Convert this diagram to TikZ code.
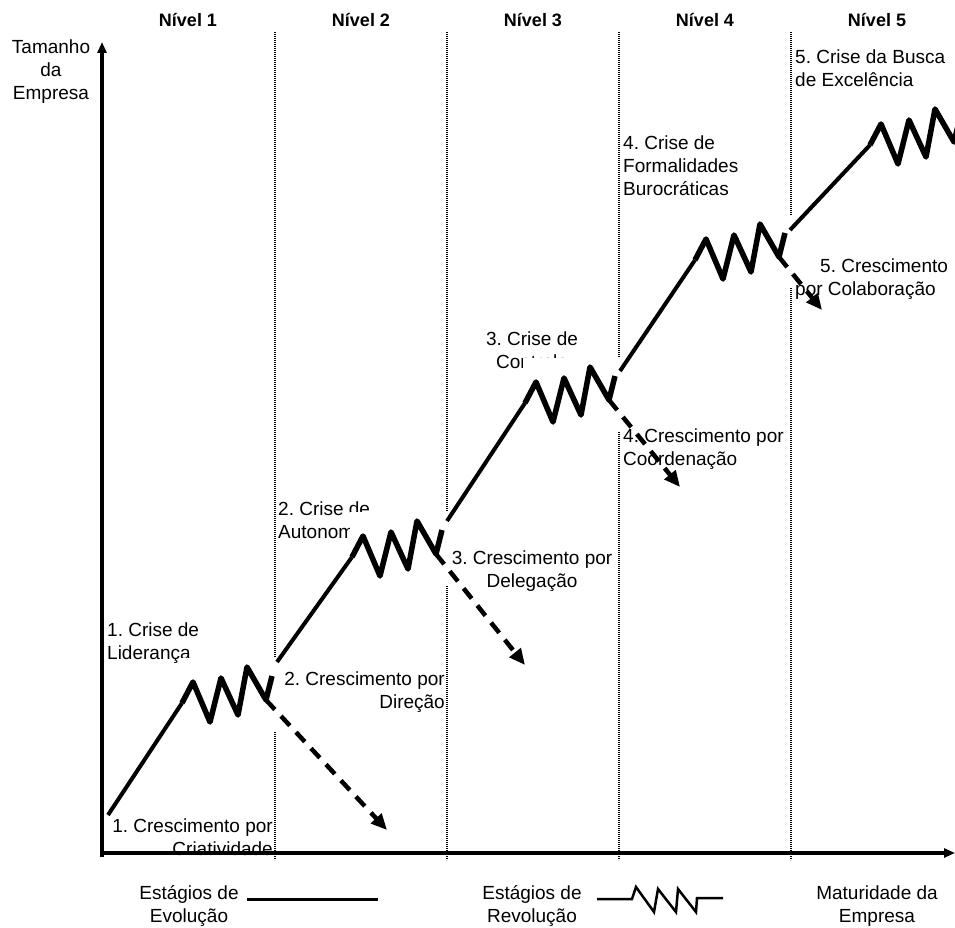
\documentclass[tikz,border=0pt]{standalone}
\usepackage{fontspec}
\setmainfont{Liberation Sans}
\usetikzlibrary{arrows.meta}
\frenchspacing
\newcommand{\stagefont}{\fontsize{19}{23}\selectfont}
\newcommand{\levelfont}{\bfseries\fontsize{18}{22}\selectfont}

\begin{document}
\begin{tikzpicture}[x=1pt, y=-1pt,
    guide/.style={line width=1.2pt, dash pattern=on 1.2pt off 0.8pt},
    evol/.style={line width=4pt},
    revol/.style={line width=5.5pt, line join=round},
    growth/.style={line width=4.5pt, dash pattern=on 13pt off 9pt, -{Triangle[length=16pt,width=14pt]}},
    txt/.style={font=\stagefont, inner sep=0pt}]
    \clip (0,0) rectangle (955,928);

    % Level borders
    \foreach \x in {275,447,619,791} {
        \draw[guide] (\x,32) -- (\x,860);
    }
    % Level titles
    \foreach \i/\x in {1/188,2/361,3/533,4/705,5/877} {
        \node[font=\levelfont, inner sep=0pt, anchor=base] (nivel\i) at (\x,27) {Nível \i};
    }

    % Axis label (base = last line)
    \node[txt, anchor=base, align=center] (tamanho) at (51,100) {Tamanho\\da\\Empresa};

    % Crisis and growth labels
    \node[txt, anchor=base west, align=left] (crise1) at (107,659) {1. Crise de\\Liderança};
    \node[txt, anchor=base east, align=right] (cresc1) at (273,855) {1. Crescimento por\\Criatividade};
    \node[txt, anchor=base west, align=left] (crise2) at (278,538) {2. Crise de\\Autonomia};
    \node[txt, anchor=base east, align=right] (cresc2) at (445,708) {2. Crescimento por\\Direção};
    \node[txt, anchor=base, align=center] (crise3) at (532,368) {3. Crise de\\Controle};
    \node[txt, anchor=base, align=center] (cresc3) at (532,587) {3. Crescimento por\\Delegação};
    \node[txt, anchor=base west, align=left] (crise4) at (623,196) {4. Crise de\\Formalidades\\Burocráticas};
    \node[txt, anchor=base west, align=left] (cresc4) at (623,465) {4. Crescimento por\\Coordenação};
    \node[txt, anchor=base west, align=left] (crise5) at (795,87) {5. Crise da Busca\\de Excelência};
    \node[txt, anchor=base west, align=left] (cresc5) at (795,295) {\hspace*{25pt}5. Crescimento\\por Colaboração};

    % Revolution stages (zigzags on white)
    \foreach \i/\sx/\sy in {1/182/703, 2/352/557, 3/525/403, 4/695/260, 5/870/145} {
        \fill[white] (\sx-2,\sy-45) rectangle (\sx+97,\sy+28);
        \coordinate (z\i) at (\sx,\sy);
        \coordinate (e\i) at (\sx+84,\sy-3);
        \draw[revol] (z\i) -- ++(11,-21) -- ++(17,40) -- ++(11,-44) -- ++(17,37)
            -- ++(9,-48) -- ++(19,33) -- ++(6,-24);
    }

    % Evolution stages
    \foreach \i/\gx/\gy in {1/108/815, 2/277/662, 3/447/521, 4/620/371, 5/790/230} {
        \coordinate (g\i) at (\gx,\gy);
        \draw[evol] (g\i) -- (z\i);
    }

    % Growth directions
    \foreach \i/\tx/\ty in {1/387/830, 2/525/665, 3/680/487, 4/822/310} {
        \coordinate (t\i) at (\tx,\ty);
        \draw[growth] (e\i) -- (t\i);
    }

    % Axes
    \draw[line width=3.5pt, -{Triangle[length=11pt,width=9pt]}] (102,857) -- (102,42);
    \draw[line width=3.5pt, -{Triangle[length=11pt,width=9pt]}] (100,853) -- (955,853);

    % Legend
    \node[txt, anchor=base, align=center] (legevol) at (189,922) {Estágios de\\Evolução};
    \draw[line width=3pt] (247,899) -- (378,899);
    \node[txt, anchor=base, align=center] (legrevol) at (532,922) {Estágios de\\Revolução};
    \draw[line width=2.5pt] (597,899) -- (632,899) -- (636,887) -- (654,912) -- (658,889)
        -- (676,912) -- (678,889) -- (696,912) -- (697,898) -- (723,898);
    \node[txt, anchor=base, align=center] (legmatur) at (877,922) {Maturidade da\\Empresa};
\end{tikzpicture}
\end{document}
